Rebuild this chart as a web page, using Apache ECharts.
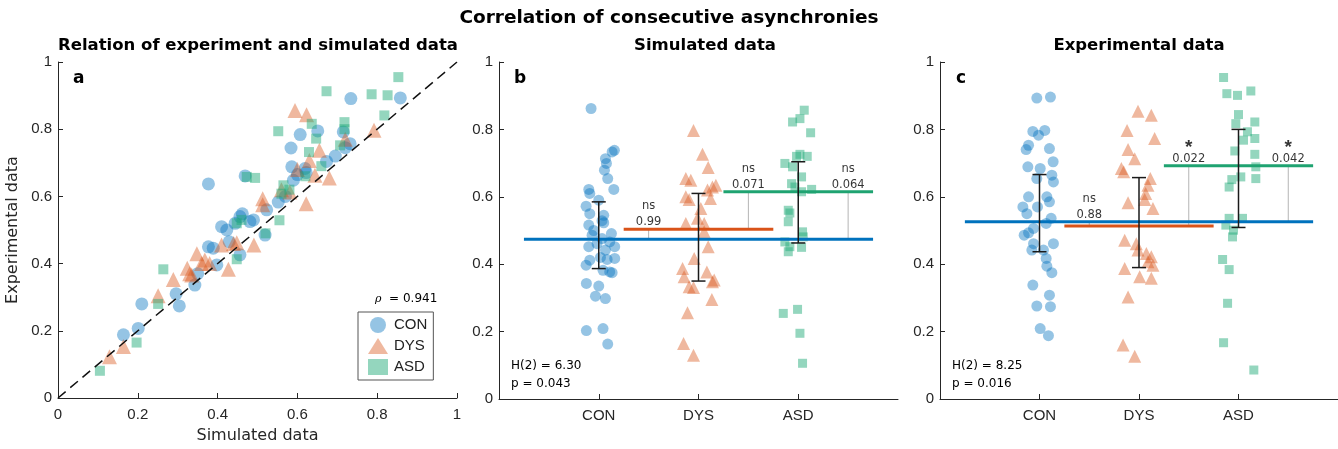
<!DOCTYPE html>
<html><head><meta charset="utf-8">
<script src="https://cdn.jsdelivr.net/npm/echarts@6/dist/echarts.min.js"></script>
<style>html,body{margin:0;padding:0;background:#fff}#c{width:1338px;height:449px}</style>
</head><body><div id="c"></div>
<script>
// ---------- data ----------
const categories = ['CON', 'DYS', 'ASD'];
const unitTicks = [0, 0.2, 0.4, 0.6, 0.8, 1];

// Panel a: [simulated, experimental]
const conPairs = [[0.858,0.893],[0.734,0.891],[0.651,0.795],[0.607,0.784],[0.715,0.792],[0.732,0.757],[0.720,0.745],[0.584,0.744],[0.673,0.704],[0.586,0.688],[0.619,0.683],[0.622,0.671],[0.377,0.637],[0.469,0.661],[0.590,0.648],[0.552,0.583],[0.519,0.485],[0.523,0.560],[0.456,0.540],[0.481,0.525],[0.410,0.510],[0.423,0.500],[0.444,0.520],[0.377,0.450],[0.389,0.446],[0.429,0.465],[0.456,0.426],[0.398,0.396],[0.343,0.336],[0.296,0.310],[0.304,0.274],[0.210,0.280],[0.201,0.207],[0.164,0.188],[0.462,0.548],[0.570,0.600],[0.600,0.665],[0.695,0.720],[0.490,0.530],[0.350,0.370]];
const dysPairs = [[0.594,0.856],[0.623,0.843],[0.792,0.797],[0.655,0.737],[0.630,0.707],[0.644,0.663],[0.680,0.655],[0.581,0.613],[0.513,0.593],[0.513,0.575],[0.622,0.578],[0.410,0.455],[0.448,0.462],[0.491,0.455],[0.348,0.429],[0.368,0.411],[0.427,0.383],[0.324,0.386],[0.335,0.366],[0.289,0.353],[0.251,0.304],[0.164,0.153],[0.129,0.123],[0.720,0.770],[0.600,0.680],[0.560,0.620],[0.380,0.400],[0.360,0.400],[0.440,0.460],[0.330,0.370]];
const asdPairs = [[0.853,0.955],[0.673,0.913],[0.786,0.904],[0.826,0.901],[0.818,0.841],[0.636,0.816],[0.552,0.794],[0.647,0.772],[0.718,0.821],[0.718,0.800],[0.707,0.752],[0.629,0.732],[0.473,0.658],[0.494,0.655],[0.565,0.633],[0.560,0.608],[0.555,0.529],[0.448,0.520],[0.448,0.413],[0.264,0.383],[0.251,0.280],[0.197,0.165],[0.105,0.081],[0.520,0.490],[0.660,0.690],[0.620,0.660],[0.580,0.620],[0.460,0.530]];
const rhoText = '0.941';

// Panel b (simulated): [jitter, value]
const conSim = [[-0.077,0.862],[0.157,0.738],[0.134,0.733],[0.067,0.713],[0.077,0.699],[0.057,0.679],[0.090,0.654],[0.151,0.622],[-0.100,0.622],[-0.090,0.610],[0.000,0.590],[-0.127,0.572],[-0.090,0.550],[0.033,0.529],[0.050,0.523],[-0.100,0.516],[0.127,0.491],[-0.067,0.486],[0.033,0.476],[0.110,0.466],[-0.017,0.461],[-0.100,0.452],[0.160,0.452],[0.067,0.442],[0.084,0.414],[-0.090,0.412],[0.160,0.417],[-0.127,0.397],[0.043,0.382],[0.110,0.377],[0.134,0.375],[-0.124,0.343],[0.000,0.335],[-0.033,0.305],[0.067,0.298],[-0.124,0.203],[0.043,0.209],[0.090,0.163],[-0.050,0.500],[0.017,0.420],[0.050,0.545]];
const dysSim = [[-0.050,0.797],[0.040,0.726],[0.097,0.687],[-0.127,0.654],[-0.077,0.649],[0.174,0.634],[0.140,0.629],[0.090,0.620],[-0.127,0.600],[-0.094,0.592],[0.120,0.595],[0.023,0.565],[-0.127,0.521],[0.057,0.521],[0.057,0.496],[0.097,0.452],[-0.043,0.417],[-0.160,0.387],[-0.144,0.363],[0.084,0.377],[0.157,0.353],[0.140,0.348],[-0.094,0.333],[-0.050,0.331],[0.134,0.295],[-0.110,0.256],[-0.150,0.165],[-0.050,0.130],[-0.010,0.536]];
const asdSim = [[0.060,0.857],[0.017,0.832],[-0.057,0.822],[0.124,0.790],[0.017,0.726],[0.090,0.720],[-0.017,0.720],[-0.134,0.699],[-0.057,0.689],[0.033,0.659],[-0.067,0.639],[-0.033,0.629],[0.134,0.622],[0.033,0.615],[-0.100,0.560],[-0.084,0.552],[-0.100,0.526],[0.043,0.496],[0.050,0.481],[-0.134,0.466],[-0.084,0.452],[0.033,0.450],[-0.100,0.437],[-0.150,0.254],[-0.007,0.266],[0.017,0.195],[0.043,0.106]];
const simMeans = [0.474, 0.504, 0.615];
const simLow = [0.387, 0.350, 0.463];
const simHigh = [0.585, 0.610, 0.704];
const simP = ['0.99', '0.071', '0.064'];
const simSig = ['ns', 'ns', 'ns'];
const simStats = ['H(2) = 6.30', 'p = 0.043'];

// Panel c (experimental): [jitter, value]
const conExp = [[-0.027,0.893],[0.110,0.896],[-0.067,0.794],[0.053,0.797],[-0.010,0.783],[-0.110,0.753],[-0.134,0.740],[0.100,0.743],[0.137,0.704],[-0.117,0.689],[0.007,0.684],[0.124,0.664],[-0.027,0.654],[0.140,0.644],[-0.110,0.600],[0.100,0.585],[-0.167,0.570],[-0.127,0.550],[0.117,0.536],[0.067,0.521],[-0.060,0.506],[-0.110,0.493],[-0.154,0.486],[0.140,0.461],[-0.060,0.461],[-0.077,0.442],[0.040,0.442],[0.067,0.417],[0.074,0.394],[0.124,0.375],[-0.067,0.338],[-0.027,0.276],[0.110,0.274],[0.100,0.308],[0.007,0.209],[0.090,0.188],[-0.020,0.570],[0.074,0.600]];
const dysExp = [[-0.010,0.854],[0.124,0.842],[-0.120,0.797],[0.157,0.773],[-0.110,0.740],[-0.043,0.713],[-0.177,0.684],[-0.154,0.674],[0.114,0.654],[0.090,0.634],[0.067,0.610],[0.057,0.592],[-0.110,0.582],[0.140,0.565],[-0.144,0.471],[-0.027,0.461],[-0.010,0.442],[0.124,0.422],[0.090,0.407],[0.140,0.397],[-0.144,0.387],[0.007,0.363],[0.124,0.358],[-0.110,0.303],[-0.160,0.160],[-0.043,0.127],[0.074,0.432]];
const asdExp = [[-0.150,0.954],[-0.117,0.906],[-0.010,0.901],[0.124,0.914],[0.000,0.844],[-0.027,0.817],[0.164,0.822],[0.090,0.793],[0.050,0.768],[0.164,0.773],[-0.037,0.736],[0.164,0.726],[0.174,0.689],[0.023,0.659],[-0.067,0.651],[-0.094,0.629],[0.174,0.654],[-0.094,0.536],[0.040,0.536],[-0.127,0.516],[-0.050,0.501],[-0.060,0.481],[-0.160,0.414],[-0.094,0.384],[-0.110,0.284],[-0.150,0.167],[0.154,0.086]];
const expMeans = [0.526, 0.513, 0.692];
const expLow = [0.437, 0.390, 0.509];
const expHigh = [0.666, 0.657, 0.800];
const expP = ['0.88', '0.022', '0.042'];
const expSig = ['ns', '*', '*'];
const expStats = ['H(2) = 8.25', 'p = 0.016'];

// ---------- styling ----------
const FONT = 'Liberation Sans, Arial, sans-serif';
const WIDE = 'DejaVu Sans, Verdana, sans-serif';
const lineColors = ['#0072BD', '#D95319', '#1FA371'];
const markerColors = ['rgba(0,114,189,0.52)', 'rgba(217,83,25,0.52)', 'rgba(31,170,120,0.6)'];
const symbols = ['circle', 'triangle', 'rect'];
const axisColor = '#262626';

const chart = echarts.init(document.getElementById('c'), null, {renderer: 'canvas'});

function yAx(gi, name) {
  return {
    gridIndex: gi, type: 'value', min: 0, max: 1, interval: 0.2,
    name: name || '', nameLocation: 'middle', nameGap: 37,
    nameTextStyle: {fontFamily: WIDE, fontSize: 16, color: axisColor},
    axisLine: {show: true, lineStyle: {color: axisColor, width: 1}},
    axisTick: {show: true, inside: true, length: 5, lineStyle: {color: axisColor}},
    axisLabel: {fontFamily: FONT, fontSize: 15, color: axisColor, margin: 6},
    splitLine: {show: false}
  };
}
function xAxA() {
  return {
    gridIndex: 0, type: 'value', min: 0, max: 1, interval: 0.2,
    name: 'Simulated data', nameLocation: 'middle', nameGap: 30,
    nameTextStyle: {fontFamily: WIDE, fontSize: 16, color: axisColor},
    axisLine: {show: true, lineStyle: {color: axisColor, width: 1}},
    axisTick: {show: true, inside: true, length: 5, lineStyle: {color: axisColor}},
    axisLabel: {fontFamily: FONT, fontSize: 15, color: axisColor, margin: 9},
    splitLine: {show: false}
  };
}
function xAxCat(gi) {
  return {
    gridIndex: gi, type: 'value', min: 0, max: 4, interval: 1,
    axisLine: {show: true, lineStyle: {color: axisColor, width: 1}},
    axisTick: {show: true, inside: true, length: 5, customValues: [1, 2, 3], lineStyle: {color: axisColor}},
    axisLabel: {fontFamily: FONT, fontSize: 15, color: axisColor, margin: 9,
      customValues: [1, 2, 3], formatter: v => categories[Math.round(v) - 1] || ''},
    splitLine: {show: false}
  };
}

const series = [];
// Panel a
[conPairs, dysPairs, asdPairs].forEach((pairs, i) => {
  series.push({
    name: categories[i], type: 'scatter', xAxisIndex: 0, yAxisIndex: 0,
    symbol: symbols[i], symbolSize: [13, 15, 10][i],
    itemStyle: {color: markerColors[i]}, data: pairs, z: 2, silent: true
  });
});
series.push({
  type: 'line', xAxisIndex: 0, yAxisIndex: 0, data: [[0, 0], [1, 1]], symbol: 'none', z: 4,
  lineStyle: {color: '#111', width: 1.5, type: [10, 6]}, silent: true
});

function panelSeries(gi, groups, means, low, high, pvals, sigs) {
  groups.forEach((pts, i) => {
    series.push({
      name: categories[i] + '_' + gi, type: 'scatter', xAxisIndex: gi, yAxisIndex: gi,
      symbol: symbols[i], symbolSize: [11, 13, 9][i],
      itemStyle: {color: markerColors[i]},
      data: pts.map(([j, v]) => [i + 1 + j, v]), z: 2, silent: true
    });
  });
  // mean lines
  const spans = [[0.25, 3.75], [1.25, 2.75], [2.25, 3.75]];
  [0, 2, 1].forEach(i => {
    series.push({
      type: 'line', xAxisIndex: gi, yAxisIndex: gi, symbol: 'none', z: 3, silent: true,
      lineStyle: {color: lineColors[i], width: 3},
      data: [[spans[i][0], means[i]], [spans[i][1], means[i]]]
    });
  });
  // comparison connectors
  const comps = [[1.5, 0, 1], [2.5, 1, 2], [3.5, 0, 2]];
  comps.forEach(([x, a, b]) => {
    series.push({
      type: 'line', xAxisIndex: gi, yAxisIndex: gi, symbol: 'none', z: 2.5, silent: true,
      lineStyle: {color: '#b4b4b4', width: 1},
      data: [[x, means[a]], [x, means[b]]]
    });
  });
  // error bars
  series.push({
    type: 'custom', xAxisIndex: gi, yAxisIndex: gi, z: 6, silent: true,
    data: categories.map((c, i) => [i + 1, low[i], high[i]]),
    encode: {x: 0, y: [1, 2]},
    renderItem: (params, api) => {
      const x = api.value(0);
      const lo = api.coord([x, api.value(1)]);
      const hi = api.coord([x, api.value(2)]);
      const w = 7, st = {stroke: '#1a1a1a', lineWidth: 1.5};
      return {type: 'group', children: [
        {type: 'line', shape: {x1: lo[0], y1: lo[1], x2: hi[0], y2: hi[1]}, style: st},
        {type: 'line', shape: {x1: lo[0] - w, y1: lo[1], x2: lo[0] + w, y2: lo[1]}, style: st},
        {type: 'line', shape: {x1: hi[0] - w, y1: hi[1], x2: hi[0] + w, y2: hi[1]}, style: st}
      ]};
    }
  });
  // labels
  const labelData = comps.map(([x, a, b], k) => ({value: [x, Math.max(means[a], means[b])], k}));
  series.push({
    type: 'scatter', xAxisIndex: gi, yAxisIndex: gi, symbolSize: 0, z: 7, silent: true,
    itemStyle: {color: '#fff'},
    data: labelData.map(d => ({value: d.value, label: {formatter: pvals[d.k]}})),
    label: {show: true, position: 'top', distance: 1, fontFamily: WIDE, fontSize: 11.5, color: '#000'}
  });
  series.push({
    type: 'scatter', xAxisIndex: gi, yAxisIndex: gi, symbolSize: 0, z: 7, silent: true,
    itemStyle: {color: '#fff'},
    data: labelData.map(d => ({value: d.value, label: sigs[d.k] === '*'
      ? {formatter: '*', fontSize: 19, fontWeight: 'bold', distance: 9, fontFamily: FONT}
      : {formatter: sigs[d.k], fontSize: 11.5, distance: 17, fontFamily: WIDE}})),
    label: {show: true, position: 'top', color: '#000'}
  });
}
panelSeries(1, [conSim, dysSim, asdSim], simMeans, simLow, simHigh, simP, simSig);
panelSeries(2, [conExp, dysExp, asdExp], expMeans, expLow, expHigh, expP, expSig);

function txt(x, y, text, size, weight, align, family) {
  return {type: 'text', x: x, y: y, silent: true,
    style: {text: text, fontFamily: family || FONT, fontSize: size, fontWeight: weight || 'normal',
      fill: '#000', align: align || 'left', verticalAlign: 'middle'}};
}

const option = {
  animation: false,
  backgroundColor: '#fff',
  grid: [
    {left: 58, top: 62, width: 399, height: 336},
    {left: 499, top: 62, width: 399, height: 337},
    {left: 940, top: 62, width: 399, height: 337}
  ],
  xAxis: [xAxA(), xAxCat(1), xAxCat(2)],
  yAxis: [yAx(0, 'Experimental data'), yAx(1), yAx(2)],
  legend: {
    left: 358, top: 312, orient: 'vertical', data: categories, selectedMode: false,
    borderColor: '#555', borderWidth: 1, padding: [5, 6, 5, 10], itemGap: 5,
    itemWidth: 20, itemHeight: 16,
    textStyle: {fontFamily: FONT, fontSize: 15, color: '#222', padding: [0, 0, 0, 1]}
  },
  graphic: [
    txt(669, 18, 'Correlation of consecutive asynchronies', 18.5, 'bold', 'center', WIDE),
    txt(258, 46, 'Relation of experiment and simulated data', 16.5, 'bold', 'center', WIDE),
    txt(705, 46, 'Simulated data', 16.5, 'bold', 'center', WIDE),
    txt(1139, 46, 'Experimental data', 16.5, 'bold', 'center', WIDE),
    txt(73, 79, 'a', 17, 'bold', 'left', WIDE),
    txt(514, 79, 'b', 17, 'bold', 'left', WIDE),
    txt(956, 79, 'c', 17, 'bold', 'left', WIDE),
    {type: 'text', x: 375, y: 299, silent: true, style: {
      text: '{i|ρ}  = ' + rhoText, fontFamily: WIDE, fontSize: 12, fill: '#000', verticalAlign: 'middle',
      rich: {i: {fontStyle: 'italic', fontFamily: 'DejaVu Serif', fontSize: 11}}}},
    txt(511, 366, simStats[0], 12, 'normal', 'left', WIDE),
    txt(511, 384, simStats[1], 12, 'normal', 'left', WIDE),
    txt(952, 366, expStats[0], 12, 'normal', 'left', WIDE),
    txt(952, 384, expStats[1], 12, 'normal', 'left', WIDE)
  ],
  series: series
};
chart.setOption(option);
</script>
</body></html>
